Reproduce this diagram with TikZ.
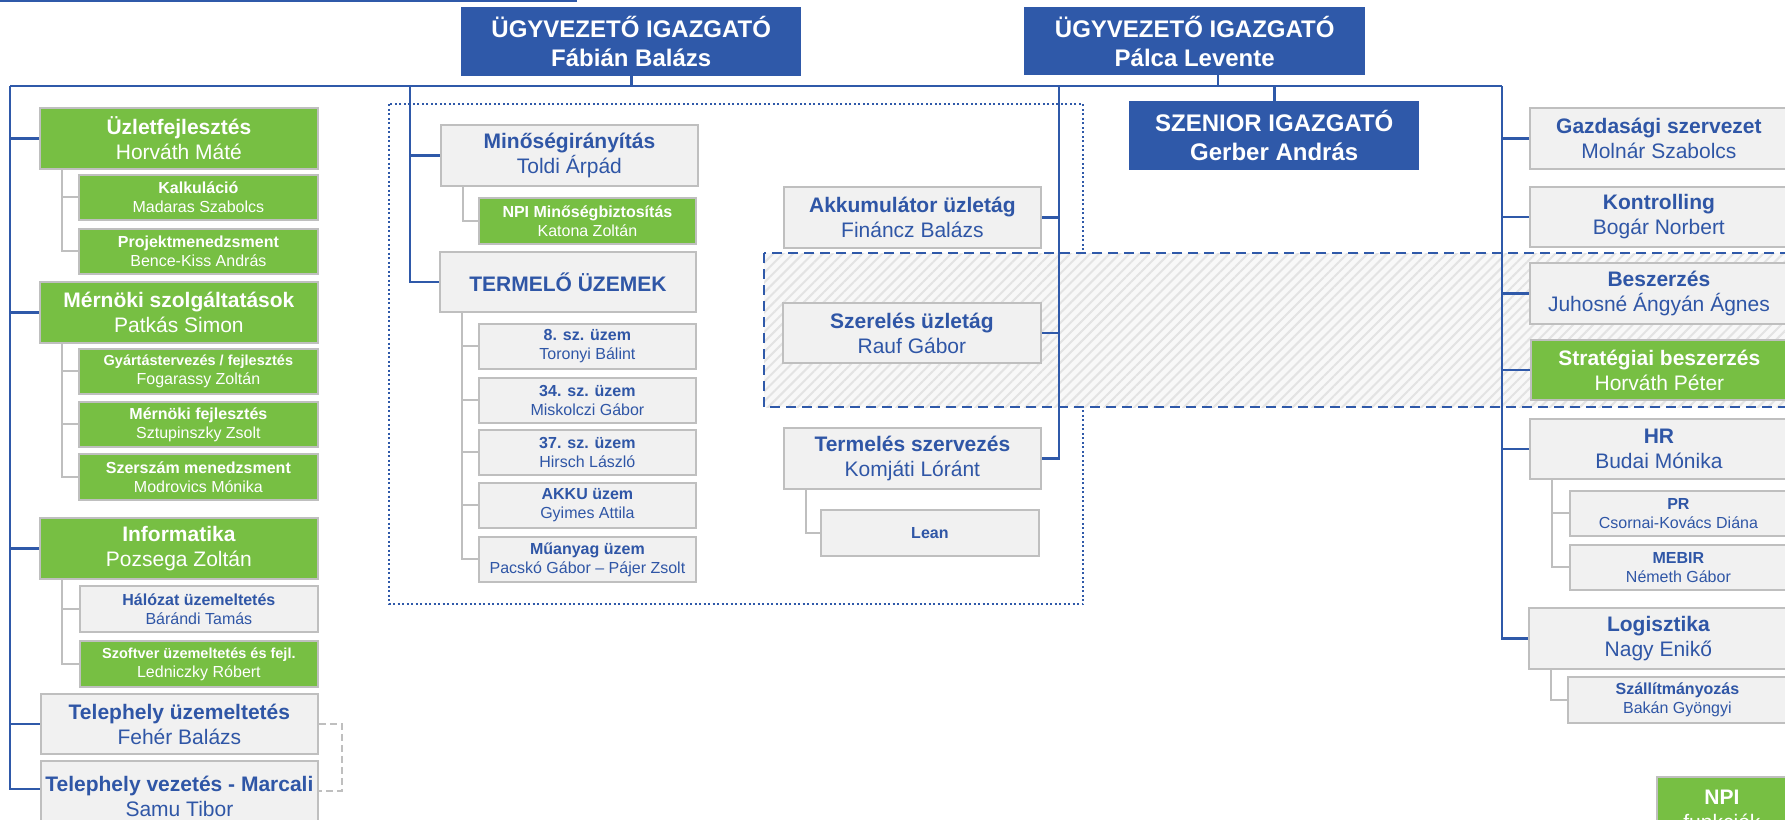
\documentclass[tikz,border=0pt]{standalone}
\usepackage{fontspec}
\setmainfont{Liberation Sans}
\usetikzlibrary{patterns.meta,backgrounds}
\definecolor{orgblue}{HTML}{2F59A9}
\definecolor{orgtext}{HTML}{2F56A6}
\definecolor{orggreen}{HTML}{77BF43}
\definecolor{orggray}{HTML}{F1F1F1}
\definecolor{orgedge}{HTML}{BFBFBF}
\definecolor{hatchbg}{HTML}{F8F8F8}
\definecolor{hatchline}{HTML}{E3E3E3}
\newcommand{\orgbox}[2]{{\bfseries #1}\\#2}

\begin{document}
\begin{tikzpicture}[x=1pt,y=-1pt,
 base/.style={anchor=north west,inner sep=0pt,align=center},
 topbox/.style={base,fill=orgblue,text=white,font=\fontsize{24}{29}\selectfont\bfseries},
 graybox/.style={base,fill=orggray,draw=orgedge,line width=1.8pt,text=orgtext,font=\fontsize{21}{25}\selectfont},
 greenbox/.style={graybox,fill=orggreen,text=white},
 graysub/.style={graybox,font=\fontsize{16}{19}\selectfont},
 greensub/.style={greenbox,font=\fontsize{16}{19}\selectfont},
 bline/.style={draw=orgblue,line width=2.6pt},
 sline/.style={draw=orgedge,line width=2pt},
 gline/.style={draw=orgedge,line width=2pt,dash pattern=on 7pt off 4pt}]
\useasboundingbox (0,0) rectangle (1785,819);
\coordinate (topL) at (0,1);
\coordinate (topR) at (577,1);
\coordinate (busL) at (10,86);
\coordinate (busR) at (1502,86);
\coordinate (busM) at (410,86);
\coordinate (busN) at (1059,86);
\coordinate (palcaDrop) at (1218,86);

\node[topbox,minimum width=340pt,minimum height=69pt] (fabian) at (461,7) {ÜGYVEZETŐ IGAZGATÓ\\Fábián Balázs};
\node[topbox,minimum width=341pt,minimum height=68pt] (palca) at (1024,7) {ÜGYVEZETŐ IGAZGATÓ\\Pálca Levente};
\node[topbox,minimum width=290pt,minimum height=69pt] (szenior) at (1129,101) {SZENIOR IGAZGATÓ\\Gerber András};

\node[greenbox,minimum width=278pt,minimum height=61pt] (uzlet) at (39,107) {\orgbox{Üzletfejlesztés}{Horváth Máté}};
\node[greensub,minimum width=239pt,minimum height=45pt] (kalk) at (78,174) {\orgbox{Kalkuláció}{Madaras Szabolcs}};
\node[greensub,minimum width=239pt,minimum height=45pt] (projekt) at (78,228) {\orgbox{Projektmenedzsment}{Bence-Kiss András}};
\node[greenbox,minimum width=278pt,minimum height=61pt] (mernoki) at (39,281) {\orgbox{Mérnöki szolgáltatások}{Patkás Simon}};
\node[greensub,minimum width=239pt,minimum height=45pt] (gyartas) at (78,348) {\orgbox{\fontsize{14.5}{19}\selectfont Gyártástervezés / fejlesztés}{Fogarassy Zoltán}};
\node[greensub,minimum width=239pt,minimum height=45pt] (mernfejl) at (78,401) {\orgbox{Mérnöki fejlesztés}{Sztupinszky Zsolt}};
\node[greensub,minimum width=239pt,minimum height=46pt] (szerszam) at (78,453) {\orgbox{Szerszám menedzsment}{Modrovics Mónika}};
\node[greenbox,minimum width=278pt,minimum height=61pt] (info) at (39,517) {\orgbox{Informatika}{Pozsega Zoltán}};
\node[graysub,minimum width=238pt,minimum height=46pt] (halozat) at (79,585) {\orgbox{Hálózat üzemeltetés}{Bárándi Tamás}};
\node[greensub,minimum width=238pt,minimum height=46pt] (szoftver) at (79,640) {\orgbox{\fontsize{14.5}{19}\selectfont Szoftver üzemeltetés és fejl.}{Ledniczky Róbert}};
\node[graybox,minimum width=277pt,minimum height=60pt] (telupz) at (40,693) {\orgbox{Telephely üzemeltetés}{Fehér Balázs}};
\node[graybox,minimum width=277pt,minimum height=70pt] (telvez) at (40,760) {\orgbox{Telephely vezetés - Marcali}{Samu Tibor}};

\node[graybox,minimum width=257pt,minimum height=61pt] (minoseg) at (440,124) {\orgbox{Minőségirányítás}{Toldi Árpád}};
\node[greensub,minimum width=217pt,minimum height=46pt] (npiq) at (478,197) {\orgbox{NPI Minőségbiztosítás}{Katona Zoltán}};
\node[graybox,minimum width=256pt,minimum height=60pt] (termelo) at (439,251) {\bfseries TERMELŐ ÜZEMEK};
\node[graysub,minimum width=217pt,minimum height=45pt] (uzem8) at (478,323) {\orgbox{8. sz. üzem}{Toronyi Bálint}};
\node[graysub,minimum width=217pt,minimum height=45pt] (uzem34) at (478,377) {\orgbox{34. sz. üzem}{Miskolczi Gábor}};
\node[graysub,minimum width=217pt,minimum height=45pt] (uzem37) at (478,429) {\orgbox{37. sz. üzem}{Hirsch László}};
\node[graysub,minimum width=217pt,minimum height=45pt] (akkuuzem) at (478,482) {\orgbox{AKKU üzem}{Gyimes Attila}};
\node[graysub,minimum width=217pt,minimum height=45pt] (muanyag) at (478,536) {\orgbox{Műanyag üzem}{Pacskó Gábor – Pájer Zsolt}};

\node[graybox,minimum width=257pt,minimum height=61pt] (akkuuzl) at (783,186) {\orgbox{Akkumulátor üzletág}{Fináncz Balázs}};
\node[graybox,minimum width=258pt,minimum height=60pt] (szereles) at (782,302) {\orgbox{Szerelés üzletág}{Rauf Gábor}};
\node[graybox,minimum width=257pt,minimum height=61pt] (termszerv) at (783,427) {\orgbox{Termelés szervezés}{Komjáti Lóránt}};
\node[graysub,minimum width=218pt,minimum height=46pt] (lean) at (820,509) {\bfseries Lean};

\node[graybox,minimum width=258pt,minimum height=61pt] (gazd) at (1529,107) {\orgbox{Gazdasági szervezet}{Molnár Szabolcs}};
\node[graybox,minimum width=258pt,minimum height=60pt] (kontr) at (1529,186) {\orgbox{Kontrolling}{Bogár Norbert}};
\node[graybox,minimum width=258pt,minimum height=61pt] (beszer) at (1529,262) {\orgbox{Beszerzés}{Juhosné Ángyán Ágnes}};
\node[greenbox,minimum width=257pt,minimum height=60pt] (strat) at (1530,339) {\orgbox{Stratégiai beszerzés}{Horváth Péter}};
\node[graybox,minimum width=258pt,minimum height=60pt] (hr) at (1529,418) {\orgbox{HR}{Budai Mónika}};
\node[graysub,minimum width=217pt,minimum height=45pt] (pr) at (1569,490) {\orgbox{PR}{Csornai-Kovács Diána}};
\node[graysub,minimum width=217pt,minimum height=45pt] (mebir) at (1569,544) {\orgbox{MEBIR}{Németh Gábor}};
\node[graybox,minimum width=259pt,minimum height=61pt] (logist) at (1528,607) {\orgbox{Logisztika}{Nagy Enikő}};
\node[graysub,minimum width=219pt,minimum height=46pt] (szall) at (1567,676) {\orgbox{Szállítmányozás}{Bakán Gyöngyi}};
\node[greenbox,minimum width=130pt,minimum height=66pt] (npi) at (1656,776) {\orgbox{NPI}{funkciók}};

\begin{scope}[on background layer]
\draw[orgblue,line width=2pt,dash pattern=on 2pt off 2.5pt] (389,104) rectangle (1083,604);
\fill[hatchbg] (764,253) rectangle (1795,407);
\fill[pattern={Lines[angle=45,distance=7pt,line width=2pt]},pattern color=hatchline] (764,253) rectangle (1795,407);
\draw[orgblue,line width=2.6pt,dash pattern=on 10pt off 6pt] (764,253) rectangle (1795,407);
\draw[bline,line width=2pt] (topL) -- (topR);
\draw[bline] (busL) -- (busR);
\draw[bline] (fabian.south) -- (fabian.south |- busL);
\draw[bline] (palcaDrop |- palca.south) -- (palcaDrop);
\draw[bline] (szenior.north) -- (szenior.north |- busL);
\draw[bline] (busL) |- ([yshift=7pt]telvez.west);
\foreach \n in {uzlet,mernoki,info,telupz}
 \draw[bline] (busL |- \n.west) -- (\n.west);
\draw[bline] (busM) |- (termelo.west);
\draw[bline] (busM |- minoseg.west) -- (minoseg.west);
\draw[bline] (busN) |- (termszerv.east);
\foreach \n in {akkuuzl,szereles}
 \draw[bline] (busN |- \n.east) -- (\n.east);
\draw[bline] (busR) |- (logist.west);
\foreach \n in {gazd,kontr,beszer,strat,hr}
 \draw[bline] (busR |- \n.west) -- (\n.west);
\foreach \p/\c in {uzlet/kalk,uzlet/projekt,mernoki/gyartas,mernoki/mernfejl,mernoki/szerszam,
 info/halozat,info/szoftver,minoseg/npiq,termelo/uzem8,termelo/uzem34,termelo/uzem37,
 termelo/akkuuzem,termelo/muanyag,termszerv/lean,hr/pr,hr/mebir,logist/szall}
 \draw[sline] ([xshift=23pt]\p.south west) |- (\c.west);
\draw[gline] (telupz.east) -- ++(23,0) |- ([yshift=5pt]telvez.east);
\end{scope}
\end{tikzpicture}
\end{document}
